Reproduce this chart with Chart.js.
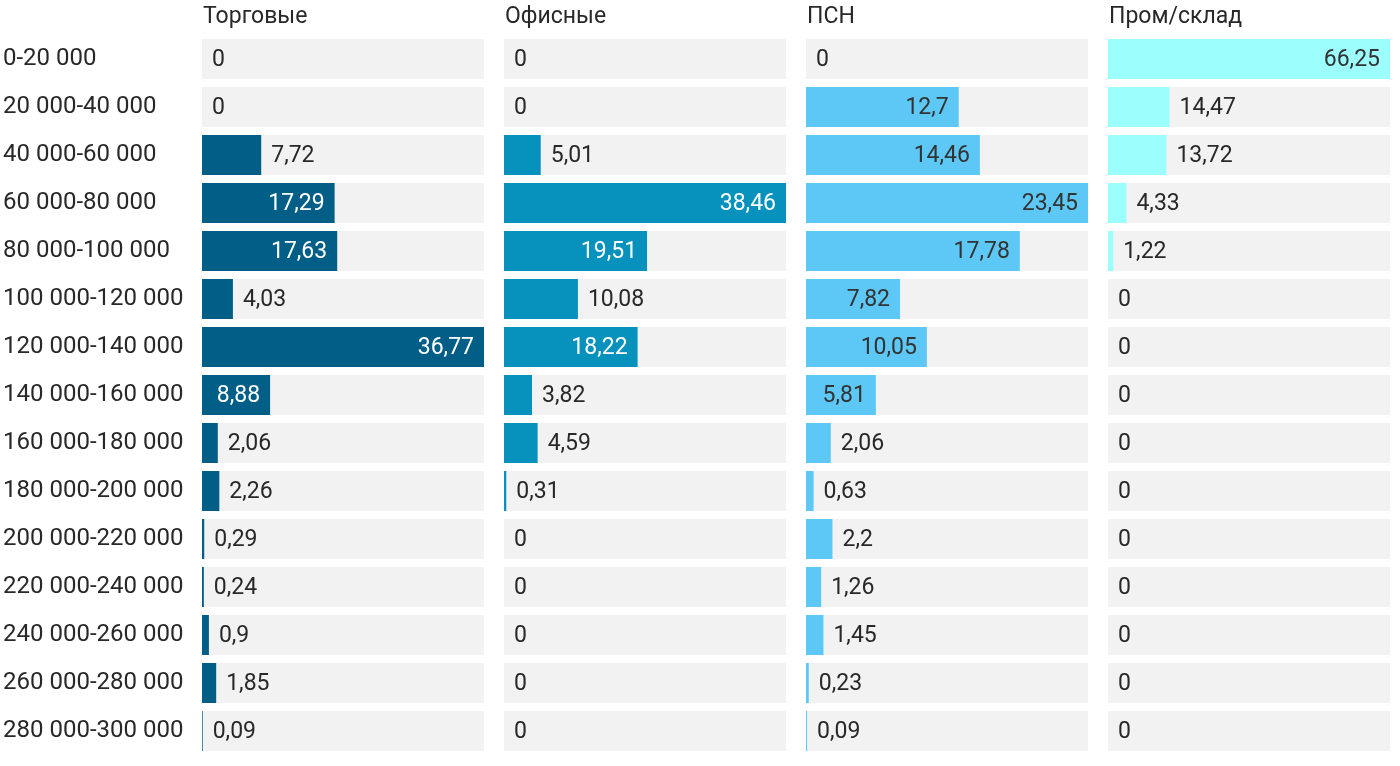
<!DOCTYPE html>
<html>
<head>
<meta charset="utf-8">
<script src="https://cdn.jsdelivr.net/npm/chart.js@4"></script>
<style>
  body { margin: 0; background: #fff; }
  .wrap { position: relative; width: 1400px; height: 766px; }
  canvas { position: absolute; top: 0; }
</style>
</head>
<body>
<div class="wrap">
  <canvas id="c0" width="484" height="766" style="left:0"></canvas>
  <canvas id="c1" width="282" height="766" style="left:504px"></canvas>
  <canvas id="c2" width="282" height="766" style="left:806px"></canvas>
  <canvas id="c3" width="292" height="766" style="left:1108px"></canvas>
</div>
<script>
// Ценовые диапазоны (строки)
const ranges = [
    "0-20 000", "20 000-40 000", "40 000-60 000", "60 000-80 000", "80 000-100 000",
    "100 000-120 000", "120 000-140 000", "140 000-160 000", "160 000-180 000", "180 000-200 000",
    "200 000-220 000", "220 000-240 000", "240 000-260 000", "260 000-280 000", "280 000-300 000"
];
const titles = ["Торговые", "Офисные", "ПСН", "Пром/склад"];

const torgovye = [0, 0, 7.72, 17.29, 17.63, 4.03, 36.77, 8.88, 2.06, 2.26, 0.29, 0.24, 0.9, 1.85, 0.09];
const ofisnye = [0, 0, 5.01, 38.46, 19.51, 10.08, 18.22, 3.82, 4.59, 0.31, 0, 0, 0, 0, 0];
const psn = [0, 12.7, 14.46, 23.45, 17.78, 7.82, 10.05, 5.81, 2.06, 0.63, 2.2, 1.26, 1.45, 0.23, 0.09];
const promSklad = [66.25, 14.47, 13.72, 4.33, 1.22, 0, 0, 0, 0, 0, 0, 0, 0, 0, 0];

const series = [torgovye, ofisnye, psn, promSklad];
const colors = ["#005e87", "#0692bd", "#5dc7f5", "#9cfffe"];
const insideText = ["#ffffff", "#ffffff", "#333333", "#333333"];

const FONT = "Roboto, 'Noto Sans', sans-serif";
const TEXT = "#282828";

function fmt(v) {
    return String(v).replace('.', ',');
}

// Titles and value labels
const labelsPlugin = {
    id: 'labels',
    afterDatasetsDraw(chart, args, opts) {
        const ctx = chart.ctx;
        const area = chart.chartArea;
        ctx.save();
        ctx.font = "23px " + FONT;
        ctx.fillStyle = TEXT;
        ctx.textAlign = 'left';
        ctx.textBaseline = 'alphabetic';
        ctx.fillText(opts.title, area.left + 1, 23);

        const meta = chart.getDatasetMeta(1);
        const data = chart.data.datasets[1].data;
        ctx.font = "23px " + FONT;
        ctx.textBaseline = 'middle';
        meta.data.forEach((bar, i) => {
            const txt = fmt(data[i]);
            const w = ctx.measureText(txt).width;
            const barW = bar.x - area.left;
            if (barW > w + 20) {
                ctx.textAlign = 'right';
                ctx.fillStyle = opts.inside;
                ctx.fillText(txt, bar.x - 10, bar.y + 1);
            } else {
                ctx.textAlign = 'left';
                ctx.fillStyle = TEXT;
                ctx.fillText(txt, bar.x + 10, bar.y + 1);
            }
        });
        ctx.restore();
    }
};

function makeChart(idx) {
    const values = series[idx];
    const max = Math.max(...values);
    const first = idx === 0;
    const ctx = document.getElementById('c' + idx).getContext('2d');
    return new Chart(ctx, {
        type: 'bar',
        data: {
            labels: ranges,
            datasets: [{
                data: values.map(() => max),
                backgroundColor: '#f2f2f2',
                grouped: false,
                order: 2,
                inflateAmount: 0,
                barThickness: 40
            }, {
                data: values,
                backgroundColor: colors[idx],
                grouped: false,
                order: 1,
                inflateAmount: 0,
                barThickness: 40
            }]
        },
        options: {
            indexAxis: 'y',
            responsive: false,
            animation: false,
            devicePixelRatio: 1,
            layout: { padding: { top: 35, bottom: 11, left: first ? 3 : 0, right: idx === 3 ? 10 : 0 } },
            scales: {
                x: { display: false, min: 0, max: max },
                y: {
                    display: first,
                    grid: { display: false },
                    border: { display: false },
                    afterFit(scale) {
                        scale.width = first ? 199 : 0;
                        scale.paddingTop = 0;
                        scale.paddingBottom = 0;
                    },
                    ticks: {
                        crossAlign: 'far',
                        padding: 0,
                        color: TEXT,
                        font: { family: FONT, size: 24 }
                    }
                }
            },
            plugins: {
                legend: { display: false },
                tooltip: { enabled: false },
                labels: { title: titles[idx], inside: insideText[idx] }
            }
        },
        plugins: [labelsPlugin]
    });
}

for (let i = 0; i < 4; i++) {
    makeChart(i);
}
</script>
</body>
</html>
